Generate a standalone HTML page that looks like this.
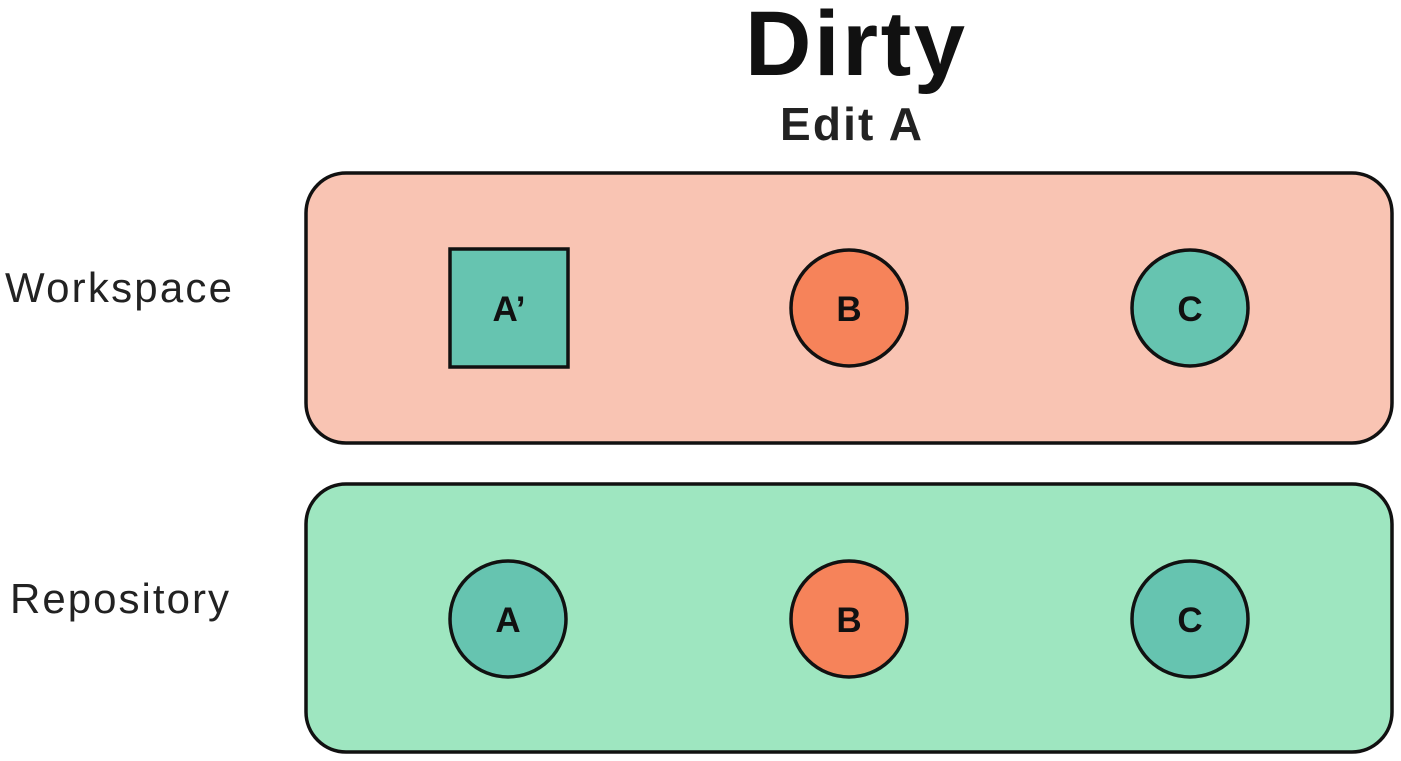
<!DOCTYPE html>
<html><head><meta charset="utf-8"><style>html,body{margin:0;padding:0;background:#fff}svg{display:block}</style></head>
<body>
<svg width="1401" height="761" viewBox="0 0 1401 761" xmlns="http://www.w3.org/2000/svg" font-family="Liberation Sans, sans-serif">
<text x="855" y="75" text-anchor="middle" font-size="92" font-weight="bold" fill="#111" textLength="220">Dirty</text>
<text x="851" y="140" text-anchor="middle" font-size="46" font-weight="bold" fill="#222" textLength="142">Edit A</text>

<text x="5" y="302" font-size="42" fill="#222" textLength="227">Workspace</text>
<text x="10" y="613" font-size="42" fill="#222" textLength="219">Repository</text>

<rect x="306" y="173" width="1086" height="270" rx="40" fill="#f9c4b3" stroke="#111" stroke-width="3.5"/>
<rect x="306" y="484" width="1086" height="268" rx="40" fill="#9ee6c0" stroke="#111" stroke-width="3.5"/>

<g>
<rect x="450" y="249" width="118" height="118" fill="#66c4b0" stroke="#111" stroke-width="3.5"/>
<text x="509" y="321" text-anchor="middle" font-size="35" font-weight="bold" fill="#111">A’</text>
</g>
<g>
<circle cx="849" cy="308" r="58" fill="#f6835a" stroke="#111" stroke-width="3.5"/>
<text x="849" y="321" text-anchor="middle" font-size="35" font-weight="bold" fill="#111">B</text>
</g>
<g>
<circle cx="1190" cy="308" r="58" fill="#66c4b0" stroke="#111" stroke-width="3.5"/>
<text x="1190" y="321" text-anchor="middle" font-size="35" font-weight="bold" fill="#111">C</text>
</g>

<g>
<circle cx="508" cy="619" r="58" fill="#66c4b0" stroke="#111" stroke-width="3.5"/>
<text x="508" y="632" text-anchor="middle" font-size="35" font-weight="bold" fill="#111">A</text>
</g>
<g>
<circle cx="849" cy="619" r="58" fill="#f6835a" stroke="#111" stroke-width="3.5"/>
<text x="849" y="632" text-anchor="middle" font-size="35" font-weight="bold" fill="#111">B</text>
</g>
<g>
<circle cx="1190" cy="619" r="58" fill="#66c4b0" stroke="#111" stroke-width="3.5"/>
<text x="1190" y="632" text-anchor="middle" font-size="35" font-weight="bold" fill="#111">C</text>
</g>
</svg>
</body></html>
